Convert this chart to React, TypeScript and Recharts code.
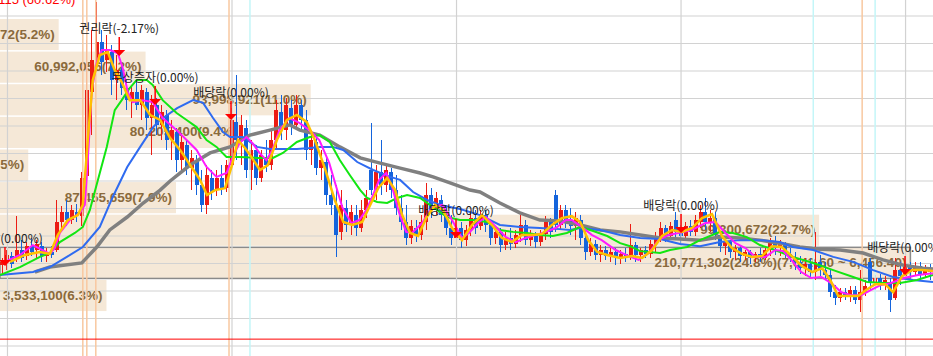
import React from 'react';
import {
  ComposedChart, XAxis, YAxis, Bar, Line,
  ReferenceLine, ReferenceArea, ReferenceDot,
} from 'recharts';

// daily candles [open, high, low, close] in won
const candles = [
  [6940, 7200, 6580, 7060], [7060, 7490, 6760, 7310], [7270, 7420, 6830, 6990], [7200, 8720, 7060, 7490],
  [7490, 7850, 7060, 7200], [7270, 7780, 7130, 7630], [7630, 7930, 7270, 7420], [7490, 7850, 7200, 7710],
  [7630, 7780, 7060, 7270], [7270, 7560, 7060, 7420], [7420, 7630, 7200, 7310], [7490, 9310, 7420, 8510],
  [8510, 9090, 8150, 8870], [8870, 9310, 8360, 8580], [8580, 9130, 8440, 8940], [8870, 9160, 8510, 8720],
  [8720, 10330, 8360, 10110], [10180, 15130, 10040, 13310], [13240, 15490, 11670, 14400], [14400, 16510, 14030, 15060],
  [15060, 15490, 13850, 14330], [14400, 15310, 13960, 14760], [14690, 14940, 13130, 13670], [13670, 14580, 12940, 14030],
  [14030, 14220, 13130, 13380], [13380, 13670, 12580, 12940], [12940, 13490, 12290, 13240], [13240, 13600, 12580, 12760],
  [12760, 13490, 12220, 13310], [13240, 13380, 11850, 12290], [12290, 13130, 10950, 12760], [12760, 13020, 11670, 12040],
  [12040, 12760, 11490, 12510], [12400, 12580, 11130, 11490], [11490, 12220, 10760, 11850], [11780, 11930, 10330, 10760],
  [10760, 11670, 10400, 11420], [11310, 11490, 10220, 10470], [10470, 11130, 9670, 10830], [10760, 10950, 9490, 9850],
  [9850, 10400, 8870, 9130], [9130, 10580, 8800, 10220], [10110, 10400, 9310, 9600], [9670, 10400, 9450, 10110],
  [10110, 10580, 9490, 9740], [9740, 10760, 9600, 10580], [10580, 12650, 10400, 12220], [12140, 13850, 10760, 11490],
  [11490, 12400, 10580, 12040], [11930, 12220, 10110, 10400], [10400, 11490, 9670, 11130], [11130, 11310, 9850, 10110],
  [10110, 11130, 9960, 10950], [10840, 11490, 10330, 10580], [10580, 11850, 10400, 11490], [11490, 12940, 11130, 12580],
  [12510, 13130, 11490, 11850], [11850, 13020, 11490, 12760], [12650, 12940, 11670, 12040], [12040, 13130, 11850, 12760],
  [12760, 12940, 11850, 12220], [12220, 12580, 10760, 11130], [11130, 11850, 10580, 11490], [11420, 11560, 10220, 10470],
  [10470, 11130, 10040, 10760], [10690, 10950, 9130, 9490], [9490, 10220, 8760, 9130], [9130, 9850, 7240, 8040],
  [8150, 9670, 7850, 9130], [9020, 9310, 8150, 8400], [8400, 9130, 8040, 8870], [8760, 9130, 8000, 8290],
  [8290, 9310, 8150, 8940], [8940, 9670, 8650, 9380], [10400, 12110, 9490, 9670], [9670, 10580, 9310, 10330],
  [10330, 11490, 9490, 9850], [9850, 10580, 9600, 10400], [10330, 10470, 9380, 9670], [9670, 10220, 8760, 9020],
  [9020, 9490, 8220, 8510], [8510, 9130, 7670, 7930], [7930, 8580, 7710, 8360], [8290, 8580, 7780, 8040],
  [8040, 8760, 7850, 8510], [8510, 9930, 8220, 9490], [9490, 9740, 8650, 8940], [8940, 9600, 8760, 9380],
  [9310, 9490, 8510, 8760], [8760, 9130, 8040, 8290], [8290, 8760, 7670, 7930], [7930, 8580, 7310, 8290],
  [8290, 8510, 7560, 7850], [7850, 8400, 7630, 8220], [8220, 8870, 8000, 8650], [8650, 8940, 8070, 8290],
  [8360, 8940, 8220, 8760], [8760, 8940, 8150, 8400], [8400, 8510, 7670, 7930], [7930, 8290, 7710, 8150],
  [8150, 8290, 7420, 7670], [7670, 8150, 7490, 7930], [7930, 8290, 7490, 7710], [7710, 8220, 7560, 8040],
  [8040, 8760, 7780, 8400], [8400, 8580, 7670, 7850], [7850, 8220, 7630, 8000], [8000, 8150, 7560, 7780],
  [7780, 8220, 7630, 8070], [8070, 8720, 7850, 8510], [8510, 8650, 7930, 8150], [9490, 9670, 8150, 8400],
  [8400, 9130, 8220, 8940], [8940, 9130, 8290, 8580], [8580, 9020, 8040, 8360], [8360, 8870, 7850, 8650],
  [8580, 8760, 7670, 7930], [7930, 8290, 7130, 7420], [7420, 7930, 7270, 7710], [7710, 7850, 7130, 7310],
  [7310, 7670, 7060, 7490], [7490, 7630, 7130, 7270], [7270, 7560, 7060, 7420], [7420, 7560, 6940, 7200],
  [7200, 7490, 6990, 7350], [7350, 7560, 7060, 7200], [7270, 8440, 7130, 7670], [7670, 7780, 7060, 7310],
  [7310, 7560, 7060, 7490], [7490, 7630, 7200, 7350], [7350, 7850, 7200, 7710], [7710, 8150, 7420, 7930],
  [7930, 8510, 7780, 8290], [8290, 8400, 7780, 8000], [8000, 8510, 7850, 8360], [8580, 8870, 7930, 8150],
  [8150, 8400, 7670, 8000], [8000, 8510, 7850, 8360], [8360, 8580, 8000, 8150], [8150, 8760, 8000, 8580],
  [8510, 9130, 8290, 8870], [8870, 9380, 8220, 8510], [8510, 8940, 8150, 8650], [8650, 8870, 7850, 8040],
  [8040, 8150, 7420, 7630], [7630, 7930, 7310, 7780], [7780, 7850, 7200, 7420], [7420, 7670, 7130, 7560],
  [7560, 7630, 7060, 7270], [7270, 7490, 7130, 7420], [7420, 7490, 6990, 7200], [7200, 7420, 7060, 7350],
  [7350, 7560, 7060, 7200], [7200, 7630, 7130, 7490], [7490, 7930, 7270, 7780], [7780, 8000, 7310, 7560],
  [7560, 7850, 7270, 7710], [7710, 7780, 7200, 7350], [7350, 7560, 7060, 7200], [7200, 7420, 6760, 7060],
  [7060, 7270, 6620, 6830], [6830, 7200, 6540, 6990], [6990, 7200, 6470, 6690], [6690, 8150, 6400, 7060],
  [7060, 7310, 6540, 6760], [6760, 7060, 6400, 6580], [6580, 6760, 5780, 5960], [5960, 6220, 5490, 5740],
  [5740, 6110, 5600, 5960], [5960, 6110, 5670, 5820], [5820, 6180, 5600, 6040], [6040, 6180, 5530, 5670],
  [5670, 6760, 5240, 5960], [5960, 6400, 5820, 6180], [7060, 7200, 6040, 6330], [6330, 6580, 6040, 6470],
  [6470, 6620, 6040, 6250], [6250, 6540, 6040, 6400], [6330, 6470, 5240, 5670], [5740, 7200, 5670, 6760],
  [6760, 7060, 6220, 6540], [6540, 7060, 6400, 6910], [6910, 7060, 6470, 6690], [6690, 7060, 6540, 6910],
  [6910, 7060, 6400, 6620], [6620, 6940, 6470, 6830], [6830, 6990, 6400, 6690],
];

// moving averages, [day, price]
const ma5 = [
  [1.5, 7060], [4.5, 7310], [7.5, 7420], [9.5, 7350], [11.1, 8040], [13.1, 8580], [15.1, 8760], [16.1, 9130],
  [17.1, 11490], [18.1, 13670], [19.5, 14580], [21.1, 14690], [22.5, 14030], [23.9, 13600], [25.5, 12940],
  [27.6, 12940], [29.6, 12400], [31.6, 12220], [33.6, 11560], [35.6, 11130], [37.6, 10580], [39.6, 10040],
  [41, 9490], [42.6, 9670], [44.6, 9740], [46, 10580], [47.2, 11490], [48.6, 11200], [50, 10840], [51.6, 10400],
  [53.2, 10580], [55, 11490], [57, 12220], [59, 12400], [61, 12140], [62.6, 11490], [64.6, 10470], [66.6, 9310],
  [68.3, 8510], [70.1, 8400], [72.1, 8510], [73.7, 9130], [75.3, 9740], [77.1, 10110], [78.7, 9670], [80.1, 8760],
  [81.7, 8110], [83.3, 8000], [84.9, 8650], [86.7, 9130], [88.3, 8940], [90.1, 8290], [92.1, 7850], [94.1, 8400],
  [96.1, 8760], [98.1, 8400], [100.1, 7930], [102.1, 7780], [104.1, 8040], [106.1, 8040], [108.1, 8070],
  [110.1, 8400], [112.1, 8650], [114.1, 8720], [115.8, 8510], [117.4, 7850], [119.2, 7420], [121.2, 7310],
  [123.8, 7200], [126.2, 7270], [128.2, 7200], [130.2, 7490], [132.2, 8000], [134.2, 8220], [136.2, 8150],
  [138.2, 8290], [140.2, 8650], [142.2, 8800], [144.2, 8000], [146.2, 7560], [148.2, 7350], [150.2, 7240],
  [152.2, 7270], [154.2, 7630], [156.2, 7600], [158.2, 7270], [160.2, 6910], [162.3, 6690], [164.3, 6830],
  [165.9, 6400], [167.5, 5820], [169.5, 5820], [171.5, 5820], [173.1, 6040], [174.9, 6250], [176.9, 6250],
  [178.5, 5960], [180.3, 6540], [182.3, 6760], [184.3, 6760], [186.5, 6730],
];
const ma10 = [
  [0.5, 7060], [3.5, 7310], [6.1, 7670], [9.5, 7350], [10.5, 7560], [11.5, 8110], [13.5, 8580], [15.5, 8840],
  [16.5, 9130], [17.1, 10760], [17.9, 13310], [18.9, 14330], [19.9, 14760], [21.5, 14760], [23.1, 14650],
  [24.1, 14110], [25.1, 13240], [26.1, 12870], [28.1, 12940], [30.1, 12870], [32.1, 12290], [34.9, 11850],
  [36.9, 11490], [38.9, 11130], [40.9, 10510], [42.9, 10150], [44.9, 10290], [45.9, 10760], [47.5, 11380],
  [48.9, 11600], [50.1, 11380], [51.5, 11020], [52.9, 10760], [54.1, 11130], [55.5, 11850], [57.5, 12290],
  [59.5, 12110], [61.5, 11850], [63.5, 11490], [65.5, 10650], [66.9, 9780], [68.1, 9050], [69.9, 8470],
  [71.5, 8580], [72.9, 8940], [74.1, 9420], [75.5, 10040], [76.9, 10290], [78.1, 9780], [79.5, 8840],
  [80.9, 8150], [82.1, 8110], [84.1, 8470], [86.1, 9050], [88.1, 9130], [90.1, 8580], [92.1, 7930], [93.5, 8110],
  [95.5, 8510], [96.9, 8690], [98.9, 8330], [100.9, 7960], [102.9, 7780], [104.9, 7930], [106.9, 8040],
  [108.9, 8150], [110.9, 8290], [112.9, 8580], [114.1, 8580], [116.1, 8330], [118.1, 8040], [120.1, 7850],
  [122.9, 7490], [125.5, 7270], [127.5, 7130], [129.5, 7380], [131.5, 7850], [133.5, 8040], [135.5, 8110],
  [138.1, 8220], [140.9, 8470], [142.9, 8510], [144.9, 8110], [146.9, 7740], [148.9, 7560], [150.9, 7240],
  [152.9, 7240], [154.9, 7490], [156.5, 7450], [158.1, 7130], [160.1, 6690], [162.1, 6470], [164.1, 6510],
  [166.1, 6290], [168.1, 5960], [170.1, 5850], [172.1, 5850], [174.1, 6040], [176.1, 6220], [178.1, 6290],
  [180.7, 6470], [183.5, 6580], [186.5, 6650],
];
const ma20 = [
  [-0.5, 6580], [3.5, 6870], [7.5, 7240], [9.5, 7380], [11.5, 7780], [14.5, 8110], [16.1, 8330], [17.5, 8940],
  [19.5, 10290], [20.9, 11240], [22.5, 12580], [23.9, 12940], [25.5, 13380], [26.9, 13670], [28.9, 13670],
  [30.1, 13490], [32.1, 12940], [34.9, 12470], [36.9, 12220], [38.9, 11960], [40.9, 11490], [42.9, 11240],
  [44.9, 10870], [47.5, 10870], [51, 10840], [54.2, 10840], [56.2, 11020], [59, 11420], [61.6, 11600],
  [63.6, 11670], [65.6, 11420], [67.6, 10760], [69.6, 10220], [71.7, 9670], [73.1, 9380], [75.1, 9240],
  [77.1, 9200], [79.1, 9380], [81.1, 9490], [83.7, 9380], [86.3, 9050], [89.1, 8690], [91.7, 8580], [94.3, 8580],
  [97.1, 8510], [99.7, 8220], [102.3, 8150], [105.1, 8110], [107.7, 8040], [110.3, 8000], [113.1, 8110],
  [115.8, 8330], [118.4, 8180], [121.2, 8000], [123.8, 7740], [125.8, 7630], [127.8, 7450], [131.8, 7380],
  [133.8, 7490], [137.2, 7600], [139.8, 7850], [143.8, 8150], [146.4, 8110], [149.2, 7960], [151.8, 7670],
  [154.4, 7520], [158.4, 7240], [162.5, 7020], [166.5, 6760], [170.5, 6510], [173.3, 6330], [176.5, 6290],
  [179.9, 6290], [183.3, 6400], [186.5, 6580],
];
const ma60 = [
  [-0.5, 6580], [6.1, 6690], [9.5, 6870], [12.9, 7240], [16.1, 7600], [19.5, 8330], [22.1, 9420], [25, 10510],
  [27.6, 11240], [30.2, 11960], [31.6, 12220], [35, 12650], [38.2, 12940], [40.2, 12840], [42.2, 12290],
  [44.2, 11780], [45.6, 11600], [48.2, 11600], [51, 11240], [53.6, 11160], [59, 11160], [61.6, 11200],
  [63.6, 11240], [66.2, 11240], [68.3, 11130], [71.1, 10690], [74.3, 10400], [77.7, 10150], [79.7, 10040],
  [82.3, 9600], [85.1, 9310], [87.7, 9130], [91.7, 8980], [95.7, 8760], [99.7, 8400], [103.7, 8330],
  [107.7, 8290], [111.7, 8250], [113.7, 8220], [115.8, 8290], [119.8, 8220], [123.8, 8040], [127.8, 7930],
  [131.8, 7890], [135.8, 7710], [139.8, 7630], [143.8, 7780], [147.8, 7850], [151.8, 7850], [155.8, 7780],
  [158.4, 7600], [162.5, 7490], [166.5, 7240], [170.5, 7060], [174.5, 6760], [178.5, 6510], [182.5, 6400],
  [186.5, 6330],
];
const ma120 = [
  [6.5, 6690], [9.5, 6870], [15.9, 7020], [18.9, 7600], [21.5, 8220], [25, 8690], [28.2, 9200], [31.6, 9670],
  [33.6, 10000], [37.6, 10580], [41.6, 11020], [45.6, 11240], [49.6, 11670], [53.6, 11850], [57.6, 12040],
  [59.6, 11850], [63.6, 11670], [67.6, 11240], [71.7, 10840], [75.7, 10650], [79.7, 10470], [83.7, 10290],
  [86.3, 10150], [89.7, 9930], [93.7, 9670], [95.7, 9600], [99.7, 9200], [103.7, 8840], [107.7, 8580],
  [111.7, 8550], [115.8, 8400], [119.8, 8220], [123.8, 8150], [127.8, 8040], [131.8, 7930], [135.8, 7890],
  [139.8, 7850], [143.8, 7960], [147.8, 7930], [151.8, 7850], [155.8, 7740], [159.8, 7600], [163.9, 7520],
  [167.9, 7490], [172.5, 7380], [176.5, 7130], [180.5, 6940], [184.5, 6830], [186.5, 6800],
];

const priceTicks = [4000, 5000, 6000, 7000, 8000, 9000, 10000, 11000, 12000, 13000, 14000, 15000, 16000];
const dayTicks = [1, 46, 91, 136, 181];
const orangeDays = [16.1, 16.9, 18.7, 45.4, 172.3];
const cyanDays = [49.6, 162.5, 174.9];
const lowLine = 4250;

// volume by price bands
const bandLow = [5270.2, 6456.4, 7642.6, 8828.8, 10015.0, 11201.2, 12387.4, 13573.6, 14759.8];
const bandHigh = [6456.4, 7642.6, 8828.8, 10015.0, 11201.2, 12387.4, 13573.6, 14759.8, 15946.0];
const bandShare = [6.3, 24.8, 22.7, 7.9, 4.5, 9.4, 11.0, 7.2, 5.2];
const bandText = [
  '3,533,100(6.3%)', '210,771,302(24.8%)(7,642.60 ~ 6,456.40)', '99,300,672(22.7%)', '87,455,659(7.9%)',
  '(4.5%)', '80,205,400(9.4%)', '93,998,921(11.0%)', '60,992,056(7.2%)', '72(5.2%)',
];
const shareMin = 3.85;
const shareMax = 25.32;

// corporate events
const eventDays = [23.4, 30.6, 45.8, 90.9, 136, 180.9, 0.5];
const eventPrices = [14760, 12980, 12440, 8150, 8330, 6800, 7130];
const eventText = ['권리락(-2.17%)', '무상증자(0.00%)', '배당락(0.00%)', '배당락(0.00%)', '배당락(0.00%)', '배당락(0.00%)', '배당락(0.00%)'];

const peakDay = 19;
const peakPrice = 16510;
const peakText = '16,115 (60.62%)';

const priceDomain = [3636.4, 16581.8];
const rows = candles.map(([o, h, l, c], i) => ({ d: i, range: [l, h], o, h, l, c }));
const bandRows = bandShare.map((s) => ({ s }));
const pts = (a: number[][]) => a.map(([d, p]) => ({ d, p }));

const Candle = (props: any) => {
  const { x, y, width, height, payload } = props;
  const { o, h, l, c } = payload;
  const toY = (p: number) => y + ((h - p) / (h - l)) * height;
  const color = c >= o ? '#ec1c14' : '#1464dc';
  const cx = x + width / 2;
  const top = toY(Math.max(o, c));
  const bot = toY(Math.min(o, c));
  return (
    <g shapeRendering="crispEdges">
      <line x1={cx} x2={cx} y1={y} y2={y + height} stroke={color} strokeWidth={1} />
      <rect x={x} y={top} width={width} height={Math.max(1, bot - top)} fill={color} />
    </g>
  );
};

const bandShape = (max: boolean) => (p: any) => (
  <rect
    x={p.x} y={p.y + 1.5} width={p.width} height={p.height - 1.5}
    fill="#f5e8d7" stroke={max ? '#8a8a8a' : 'none'} strokeWidth={1.5}
  />
);

const eventLabel = (text: string) => (p: any) => (
  <text x={p.cx} y={p.cy - 17} textAnchor="middle" fontSize={12}
    fontFamily="'Noto Sans CJK KR', sans-serif" fill="#222">{text}</text>
);

const eventMark = (p: any) => (
  <g>
    <line x1={p.cx} x2={p.cx} y1={p.cy - 13} y2={p.cy} stroke="#ff0000" strokeWidth={1.5} />
    <polygon points={`${p.cx - 6},${p.cy} ${p.cx + 6},${p.cy} ${p.cx},${p.cy + 6}`} fill="#ff0000" />
  </g>
);

const peakLabel = (p: any) => (
  <text x={p.cx - 22} y={p.cy + 2} textAnchor="end" fontSize={13}
    fontFamily="'Liberation Sans', Arial, sans-serif" fill="#ff0000">{peakText}</text>
);

const M = { top: 0, right: 0, bottom: 0, left: 0 };

// back layer: horizontal grid and volume-by-price bands
const BandChart = () => (
  <ComposedChart width={933} height={356} data={bandRows} margin={M}>
    <XAxis dataKey="s" type="number" domain={[shareMin, shareMax]} hide allowDataOverflow />
    <YAxis type="number" domain={priceDomain} hide allowDataOverflow />
    {priceTicks.map((p) => (
      <ReferenceLine key={'g' + p} y={p} stroke="#d2d2d2" strokeWidth={1.2} />
    ))}
    {bandLow.map((lo, i) => (
      <ReferenceArea
        key={'b' + i} x1={shareMin} x2={bandShare[i]} y1={lo} y2={bandHigh[i]}
        shape={bandShape(i === 1)}
        label={{
          value: bandText[i], position: 'insideRight', offset: 4, fill: '#8a6a3c',
          fontSize: 13.5, fontWeight: 'bold', fontFamily: "'Liberation Sans', Arial, sans-serif",
        }}
      />
    ))}
  </ComposedChart>
);

const maLine = (data: number[][], color: string, width: number) => (
  <Line
    xAxisId="n" data={pts(data)} dataKey="p" type="linear" stroke={color} strokeWidth={width}
    dot={false} activeDot={false} isAnimationActive={false}
  />
);

export default function App() {
  return (
    <div style={{ position: 'absolute', left: 0, top: 0, width: 933, height: 356, background: '#fff', overflow: 'hidden' }}>
      <div style={{ position: 'absolute', left: 0, top: 0 }}>
        <BandChart />
      </div>
      <div style={{ position: 'absolute', left: 0, top: 0 }}>
        <ComposedChart width={933} height={356} data={rows} margin={M}>
          <XAxis dataKey="d" hide />
          <XAxis xAxisId="n" type="number" dataKey="d" domain={[-0.5, 186.5]} hide allowDataOverflow />
          <YAxis type="number" domain={priceDomain} hide allowDataOverflow />

          {dayTicks.map((d) => (
            <ReferenceLine key={'v' + d} xAxisId="n" x={d} stroke="#d2d2d2" strokeWidth={1.2} />
          ))}
          {orangeDays.map((d) => (
            <ReferenceLine key={'o' + d} xAxisId="n" x={d} stroke="#f8c8a0" strokeWidth={1.5} />
          ))}
          {cyanDays.map((d) => (
            <ReferenceLine key={'c' + d} xAxisId="n" x={d} stroke="#c4f6f8" strokeWidth={1.5} />
          ))}
          <ReferenceLine xAxisId="n" y={lowLine} stroke="#ff0000" strokeWidth={1} />
          {eventDays.map((d, i) => (
            <ReferenceDot key={'el' + i} xAxisId="n" x={d} y={eventPrices[i]} shape={eventLabel(eventText[i])} />
          ))}

          <Bar dataKey="range" barSize={4} shape={Candle} activeBar={false} isAnimationActive={false} />

          {maLine(ma120, '#808080', 3.5)}
          {maLine(ma60, '#2f6bf0', 2)}
          {maLine(ma20, '#12e612', 2)}
          {maLine(ma10, '#ff1aff', 2)}
          {maLine(ma5, '#ffc000', 2.5)}

          {eventDays.map((d, i) => (
            <ReferenceDot key={'em' + i} xAxisId="n" x={d} y={eventPrices[i]} shape={eventMark} />
          ))}
          <ReferenceDot xAxisId="n" x={peakDay} y={peakPrice} shape={peakLabel} />
        </ComposedChart>
      </div>
    </div>
  );
}
